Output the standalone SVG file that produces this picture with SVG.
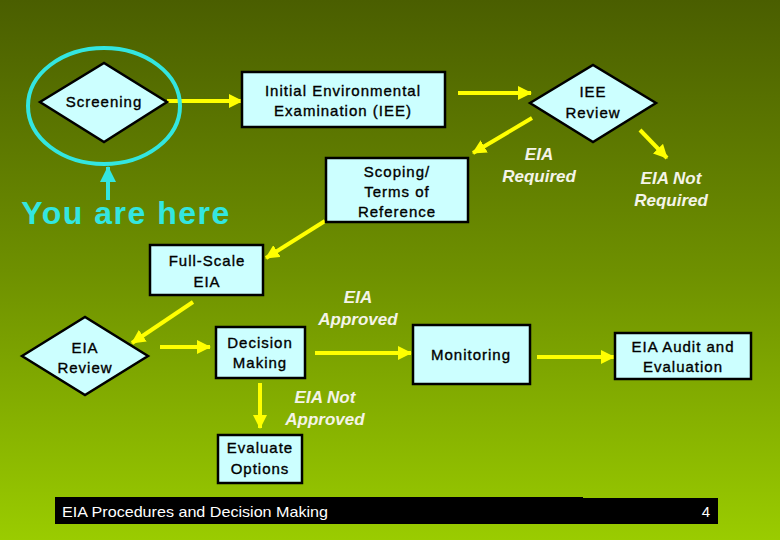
<svg xmlns="http://www.w3.org/2000/svg" width="780" height="540" viewBox="0 0 780 540">
<defs>
<linearGradient id="bg" x1="0" y1="0" x2="0" y2="1">
<stop offset="0" stop-color="#4a5e00"/>
<stop offset="0.5" stop-color="#6e9000"/>
<stop offset="1" stop-color="#9acc00"/>
</linearGradient>
<marker id="ah" markerUnits="userSpaceOnUse" markerWidth="14" markerHeight="14" viewBox="0 0 14 14" refX="13" refY="7" orient="auto">
<path d="M0,0 L14,7 L0,14 Z" fill="#ffff00"/>
</marker>
<marker id="ahc" markerUnits="userSpaceOnUse" markerWidth="16" markerHeight="16" viewBox="0 0 16 16" refX="15" refY="8" orient="auto">
<path d="M0,0 L16,8 L0,16 Z" fill="#33e6e0"/>
</marker>
</defs>
<style>
.box{fill:#ccffff;stroke:#000;stroke-width:2.5}
.t{font-family:"Liberation Sans",Arial,sans-serif;font-size:15px;fill:#000;stroke:#000;stroke-width:0.35;text-anchor:middle;letter-spacing:1px}
.lbl{font-family:"Liberation Sans",Arial,sans-serif;font-size:17px;font-weight:bold;font-style:italic;fill:#f4f4e8;text-anchor:middle}
.conn{stroke:#ffff00;stroke-width:4;fill:none;marker-end:url(#ah)}
</style>
<rect width="780" height="540" fill="url(#bg)"/>

<g id="connectors">
<line class="conn" x1="167" y1="101" x2="242" y2="101"/>
<line class="conn" x1="458" y1="93" x2="531" y2="93"/>
<line class="conn" x1="532" y1="118" x2="473" y2="153"/>
<line class="conn" x1="640" y1="130" x2="667" y2="158"/>
<line class="conn" x1="325" y1="221" x2="266" y2="258"/>
<line class="conn" x1="193" y1="302" x2="132" y2="343"/>
<line class="conn" x1="160" y1="347" x2="210" y2="347"/>
<line class="conn" x1="315" y1="353" x2="411" y2="353"/>
<line class="conn" x1="537" y1="357" x2="614" y2="357"/>
<line class="conn" x1="260" y1="383" x2="260" y2="428"/>
</g>

<g id="you-are-here">
<ellipse cx="104" cy="106" rx="76" ry="58" fill="none" stroke="#33e6e0" stroke-width="4"/>
<line x1="108" y1="200" x2="108" y2="167" stroke="#33e6e0" stroke-width="4" marker-end="url(#ahc)"/>
<text x="126" y="224" font-family="Liberation Sans,Arial,sans-serif" font-size="32" font-weight="bold" letter-spacing="1.5" fill="#33e6e0" text-anchor="middle">You are here</text>
</g>

<g id="screening">
<polygon class="box" points="40,102 104,63 167,102 104,142"/>
<text class="t" x="104" y="107">Screening</text>
</g>

<g id="iee">
<rect class="box" x="242" y="72" width="203" height="55"/>
<text class="t" x="343" y="96">Initial Environmental</text>
<text class="t" x="343" y="116">Examination (IEE)</text>
</g>

<g id="iee-review">
<polygon class="box" points="530,103 593,65 656,103 593,142"/>
<text class="t" x="593" y="97">IEE</text>
<text class="t" x="593" y="118">Review</text>
</g>

<g id="label-eia-required">
<text class="lbl" x="539" y="160">EIA</text>
<text class="lbl" x="539" y="182">Required</text>
</g>

<g id="label-eia-not-required">
<text class="lbl" x="671" y="184">EIA Not</text>
<text class="lbl" x="671" y="206">Required</text>
</g>

<g id="scoping">
<rect class="box" x="326" y="158" width="142" height="64"/>
<text class="t" x="397" y="177">Scoping/</text>
<text class="t" x="397" y="197">Terms of</text>
<text class="t" x="397" y="217">Reference</text>
</g>

<g id="full-scale-eia">
<rect class="box" x="150" y="245" width="113" height="50"/>
<text class="t" x="207" y="266">Full-Scale</text>
<text class="t" x="207" y="287">EIA</text>
</g>

<g id="eia-review">
<polygon class="box" points="22,356 85,317 148,356 85,395"/>
<text class="t" x="85" y="353">EIA</text>
<text class="t" x="85" y="373">Review</text>
</g>

<g id="decision-making">
<rect class="box" x="216" y="327" width="89" height="51"/>
<text class="t" x="260" y="348">Decision</text>
<text class="t" x="260" y="368">Making</text>
</g>

<g id="label-eia-approved">
<text class="lbl" x="358" y="303">EIA</text>
<text class="lbl" x="358" y="325">Approved</text>
</g>

<g id="monitoring">
<rect class="box" x="413" y="325" width="117" height="59"/>
<text class="t" x="471" y="360">Monitoring</text>
</g>

<g id="eia-audit">
<rect class="box" x="615" y="333" width="136" height="46"/>
<text class="t" x="683" y="352">EIA Audit and</text>
<text class="t" x="683" y="372">Evaluation</text>
</g>

<g id="label-eia-not-approved">
<text class="lbl" x="325" y="403">EIA Not</text>
<text class="lbl" x="325" y="425">Approved</text>
</g>

<g id="evaluate-options">
<rect class="box" x="218" y="435" width="84" height="48"/>
<text class="t" x="260" y="453">Evaluate</text>
<text class="t" x="260" y="474">Options</text>
</g>

<g id="footer">
<rect x="55" y="497" width="528" height="27" fill="#000"/>
<rect x="583" y="498" width="135" height="26" fill="#000"/>
<text x="62" y="517" font-family="Liberation Sans,Arial,sans-serif" font-size="15" fill="#fff" textLength="266" lengthAdjust="spacingAndGlyphs">EIA Procedures and Decision Making</text>
<text x="710" y="517" font-family="Liberation Sans,Arial,sans-serif" font-size="15" fill="#fff" text-anchor="end">4</text>
</g>
</svg>
